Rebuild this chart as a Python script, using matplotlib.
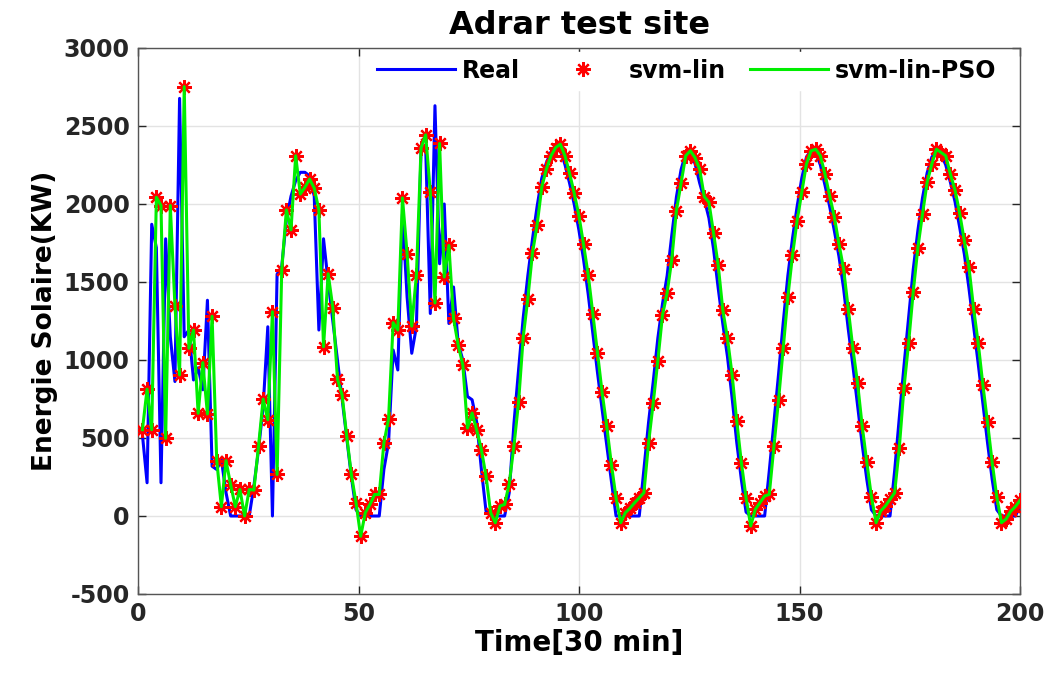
import numpy as np
import matplotlib
matplotlib.use("Agg")
import matplotlib.pyplot as plt

plt.rcParams['font.family'] = ['DejaVu Sans']
plt.rcParams['font.weight'] = 'bold'
plt.rcParams['axes.unicode_minus'] = False

real = [
    # 0-50 (cloudy part)
    520, 213, 1870, 1720, 213, 1777, 1150, 862, 2677, 1149, 1192, 872, 950, 809,
    1383, 319, 298, 362, 150, 0, 0, 0, 0, 0, 191, 425, 700, 1213, 0, 1550, 1600,
    1900, 2050, 2150, 2203, 2203, 2180, 2050, 1192, 1777, 1500, 1250, 1000, 750,
    500, 250, 40, 0,
    # 50-81
    0, 0, 0, 0, 298, 468, 1064, 936, 1936, 1404, 1043, 1213, 2341, 2362, 1298,
    2630, 1617, 2000, 1234, 1468, 1106, 1000, 766, 745, 600, 298, 30, 0, 0,
    # 81-109
    0, 0, 150, 590, 935, 1270, 1540, 1775, 1985, 2165, 2265, 2335, 2372, 2346,
    2252, 2132, 1997, 1833, 1644, 1422, 1172, 920, 683, 452, 223, 0, 0,
    # 109-138
    0, 0, 0, 0, 300, 600, 860, 1140, 1360, 1540, 1800, 2045, 2220, 2325, 2320,
    2260, 2135, 2030, 1910, 1710, 1460, 1230, 1020, 755, 470, 230, 25, 0,
    # 138-167
    0, 0, 0, 290, 600, 910, 1240, 1540, 1780, 1985, 2165, 2300, 2345, 2330, 2250,
    2120, 1985, 1830, 1665, 1460, 1200, 965, 715, 460, 235, 40, 0,
    # 167-196
    0, 0, 0, 290, 630, 960, 1270, 1580, 1830, 2040, 2200, 2300, 2340, 2320, 2250,
    2140, 2015, 1850, 1680, 1460, 1220, 975, 720, 470, 235, 40, 0,
    # 196-200
    0, 0, 0, 60,
]

# svm-lin prediction (red asterisks)
svm_lin = [
    553, 813, 553, 2043, 1990, 498, 1990, 1348, 904, 2752, 1075, 1192, 658, 983,
    654, 1280, 355, 60, 355, 200, 60, 170, 0, 170, 166, 447, 749, 617, 1309, 266,
    1575, 1962, 1834, 2309, 2064, 2107, 2160, 2102, 1962, 1085, 1553, 1336, 877,
    777, 511, 266, 85, -130,
    21, 74, 138, 138, 468, 621, 1239, 1192, 2039, 1681, 1217, 1543, 2358, 2443,
    2075, 1366, 2388, 1532, 1734, 1266, 1096, 968, 564, 660, 549, 426, 255, 21, -43,
    64, 74, 208, 447, 728, 1143, 1394, 1685, 1866, 2107, 2224, 2309, 2362, 2383,
    2309, 2196, 2068, 1926, 1741, 1547, 1298, 1047, 792, 575, 330, 117, -43,
    21, 50, 85, 117, 149, 468, 723, 996, 1287, 1430, 1643, 1958, 2132, 2309, 2341,
    2298, 2224, 2047, 2011, 1813, 1607, 1319, 1138, 904, 606, 340, 117, -64,
    43, 85, 128, 138, 447, 745, 1075, 1404, 1670, 1894, 2075, 2256, 2340, 2351,
    2309, 2192, 2053, 1919, 1745, 1585, 1330, 1075, 855, 579, 345, 123, -43,
    32, 64, 106, 149, 436, 819, 1107, 1436, 1719, 1936, 2139, 2256, 2351, 2330,
    2309, 2192, 2090, 1941, 1766, 1596, 1330, 1107, 841, 600, 345, 123, -43,
    -20, 30, 60, 100,
]

# svm-lin-PSO prediction (green line), sits on the svm-lin points
svm_pso = [
    553, 813, 553, 2043, 1990, 498, 1990, 1348, 904, 2752, 1075, 1192, 658, 983,
    654, 1280, 355, 60, 355, 200, 60, 170, 0, 170, 166, 447, 749, 617, 1309, 266,
    1575, 1962, 1834, 2309, 2064, 2107, 2160, 2102, 1962, 1085, 1553, 1336, 877,
    777, 511, 266, 85, -130,
    21, 74, 138, 138, 468, 621, 1239, 1192, 2039, 1681, 1217, 1543, 2358, 2443,
    2075, 1366, 2388, 1532, 1734, 1266, 1096, 968, 564, 660, 549, 426, 255, 21, -43,
    64, 74, 208, 447, 728, 1143, 1394, 1685, 1866, 2107, 2224, 2309, 2362, 2383,
    2309, 2196, 2068, 1926, 1741, 1547, 1298, 1047, 792, 575, 330, 117, -43,
    21, 50, 85, 117, 149, 468, 723, 996, 1287, 1430, 1643, 1958, 2132, 2309, 2341,
    2298, 2224, 2047, 2011, 1813, 1607, 1319, 1138, 904, 606, 340, 117, -64,
    43, 85, 128, 138, 447, 745, 1075, 1404, 1670, 1894, 2075, 2256, 2340, 2351,
    2309, 2192, 2053, 1919, 1745, 1585, 1330, 1075, 855, 579, 345, 123, -43,
    32, 64, 106, 149, 436, 819, 1107, 1436, 1719, 1936, 2139, 2256, 2351, 2330,
    2309, 2192, 2090, 1941, 1766, 1596, 1330, 1107, 841, 600, 345, 123, -43,
    -20, 30, 60, 100,
]

t = np.linspace(1, 200, len(real))

fig = plt.figure(figsize=(10.48, 6.74), dpi=100)
ax = fig.add_axes([0.1317, 0.1187, 0.8416, 0.8101])

ax.plot(t, real, color='#0000ff', lw=2.2, label='Real', zorder=2)
ax.plot(t, svm_lin, ls='none', marker=(8, 2, 0), ms=10.5, mec='#ff0000',
        mew=1.6, color='#ff0000', label='svm-lin', zorder=3)
ax.plot(t, svm_pso, color='#00ee00', lw=2.2, label='svm-lin-PSO', zorder=4)

ax.set_xlim(0, 200)
ax.set_ylim(-500, 3000)
ax.set_xticks([0, 50, 100, 150, 200])
ax.set_yticks(range(-500, 3001, 500))
ax.grid(True, color='#e3e3e3', lw=1.0)
ax.set_axisbelow(True)
for s in ax.spines.values():
    s.set_color('#555555')
    s.set_linewidth(1.0)
ax.tick_params(direction='in', length=6, width=1, colors='#262626',
               labelsize=17, top=True, right=True, pad=6)
for lab in ax.get_xticklabels() + ax.get_yticklabels():
    lab.set_fontweight('bold')

ax.set_title('Adrar test site', fontsize=23, fontweight='bold', pad=10)
ax.set_xlabel('Time[30 min]', fontsize=20, fontweight='bold', labelpad=2)
ax.set_ylabel('Energie Solaire(KW)', fontsize=19, fontweight='bold', labelpad=4)

leg = ax.legend(loc='upper right', ncol=3, bbox_to_anchor=(0.985, 1.0),
                frameon=True, fancybox=False, edgecolor='white',
                framealpha=1.0, prop={'size': 17, 'weight': 'bold'},
                handlelength=3.3, handletextpad=0.3, columnspacing=1.0,
                borderaxespad=0.15, borderpad=0.3)

fig.savefig('out.png', dpi=100)
